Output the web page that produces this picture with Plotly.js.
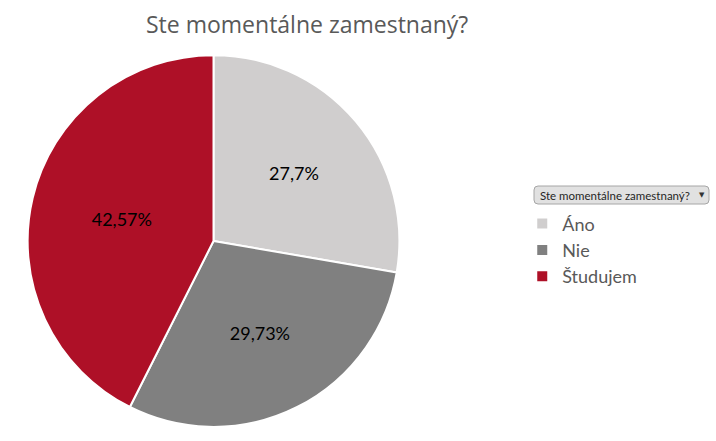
<!DOCTYPE html>
<html>
<head>
<meta charset="utf-8">
<script src="https://cdn.plot.ly/plotly-3.0.1.min.js"></script>
<style>
  html, body { margin: 0; padding: 0; background: #ffffff; }
  #chart { width: 716px; height: 441px; }
</style>
</head>
<body>
<div id="chart"></div>
<script>
const categories = ["Áno", "Nie", "Študujem"];
const shares = [27.7, 29.73, 42.57];
const sliceColors = ["#d0cece", "#808080", "#ae1027"];
const chartTitle = "Ste momentálne zamestnaný?";

// Slovak decimal comma for the slice labels
const labelText = shares.map(v => String(v).replace(".", ",") + "%");

const W = 716, H = 441;
// pixel -> paper helpers for the field button
const px = x => x / W;
const py = y => 1 - y / H;

function roundedBox(x0, y0, x1, y1, r) {
    return "M" + px(x0 + r) + "," + py(y0) +
        " L" + px(x1 - r) + "," + py(y0) +
        " Q" + px(x1) + "," + py(y0) + " " + px(x1) + "," + py(y0 + r) +
        " L" + px(x1) + "," + py(y1 - r) +
        " Q" + px(x1) + "," + py(y1) + " " + px(x1 - r) + "," + py(y1) +
        " L" + px(x0 + r) + "," + py(y1) +
        " Q" + px(x0) + "," + py(y1) + " " + px(x0) + "," + py(y1 - r) +
        " L" + px(x0) + "," + py(y0 + r) +
        " Q" + px(x0) + "," + py(y0) + " " + px(x0 + r) + "," + py(y0) + " Z";
}

const pie = {
    type: "pie",
    labels: categories,
    values: shares,
    text: labelText,
    textinfo: "text",
    textposition: "inside",
    insidetextorientation: "horizontal",
    insidetextfont: { family: "Lato, sans-serif", size: 18, color: "#000000" },
    sort: false,
    direction: "clockwise",
    rotation: 0,
    marker: { colors: sliceColors, line: { color: "#ffffff", width: 2 } },
    domain: { x: [0.0384, 0.558], y: [0.032, 0.875] },
    hoverinfo: "label+text"
};

Plotly.newPlot("chart", [pie], {
    width: W,
    height: H,
    margin: { l: 0, r: 0, t: 0, b: 0 },
    paper_bgcolor: "#ffffff",
    font: { family: "Lato, sans-serif", color: "#595959" },
    title: {
        text: chartTitle,
        font: { family: "'Open Sans', sans-serif", size: 23, color: "#595959" },
        x: 0.429,
        xanchor: "center",
        y: 0.943,
        yanchor: "middle",
        yref: "container"
    },
    showlegend: true,
    legend: {
        x: 0.7294,
        xanchor: "left",
        y: 0.5345,
        yanchor: "top",
        font: { family: "Lato, sans-serif", size: 18, color: "#595959" },
        bgcolor: "rgba(0,0,0,0)"
    },
    // pivot field button above the legend
    shapes: [{
        type: "path",
        xref: "paper", yref: "paper",
        path: roundedBox(534, 186, 709, 204, 4),
        fillcolor: "#e1e1e1",
        line: { color: "#a6a6a6", width: 1 }
    }],
    annotations: [{
        text: chartTitle,
        xref: "paper", yref: "paper",
        x: px(538), xanchor: "left",
        y: py(195), yanchor: "middle",
        showarrow: false,
        font: { family: "Lato, sans-serif", size: 11.5, color: "#262626" }
    }, {
        text: "▼",
        xref: "paper", yref: "paper",
        x: px(702), xanchor: "center",
        y: py(195), yanchor: "middle",
        showarrow: false,
        font: { family: "DejaVu Sans, sans-serif", size: 7, color: "#333333" }
    }]
}, {
    displayModeBar: false
});
</script>
</body>
</html>
